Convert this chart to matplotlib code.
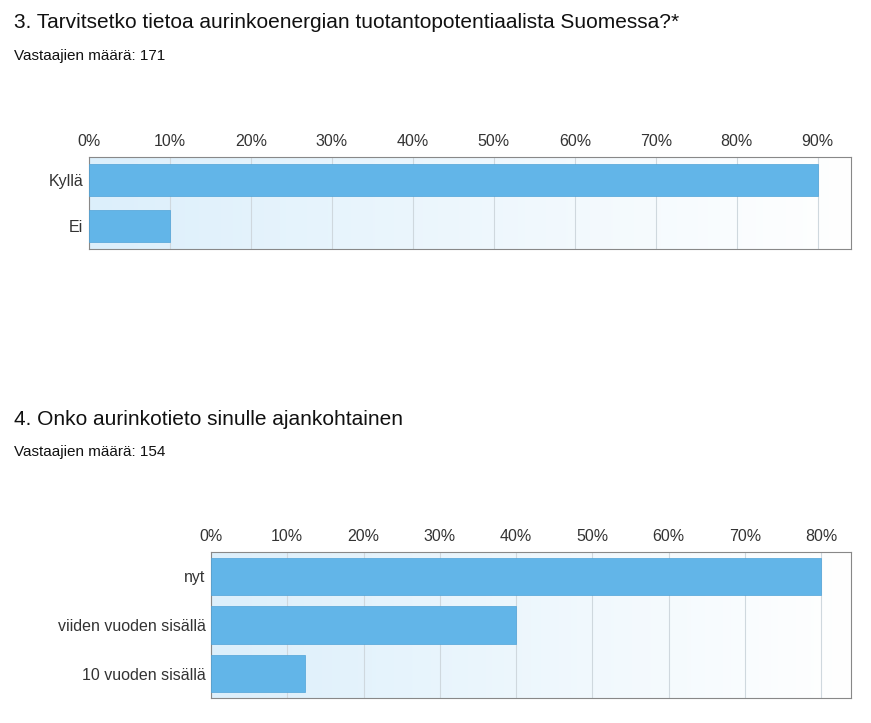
import matplotlib
matplotlib.use("Agg")
import matplotlib.pyplot as plt
import numpy as np
from matplotlib.colors import LinearSegmentedColormap

plt.rcParams["font.family"] = "Liberation Sans"

title1 = "3. Tarvitsetko tietoa aurinkoenergian tuotantopotentiaalista Suomessa?*"
sub1 = "Vastaajien määrä: 171"
cats1 = ["Kyllä", "Ei"]
vals1 = [90, 10]
ticks1 = [0, 10, 20, 30, 40, 50, 60, 70, 80, 90]

title2 = "4. Onko aurinkotieto sinulle ajankohtainen"
sub2 = "Vastaajien määrä: 154"
cats2 = ["nyt", "viiden vuoden sisällä", "10 vuoden sisällä"]
vals2 = [80, 40, 12.3]
ticks2 = [0, 10, 20, 30, 40, 50, 60, 70, 80]

fig = plt.figure(figsize=(8.71, 7.23), dpi=100)
W, H = 871, 723
bgcmap = LinearSegmentedColormap.from_list("bg", ["#dcefFb", "#ffffff"])

def panel(rect, cats, vals, ticks, xmax, bh):
    ax = fig.add_axes(rect)
    n = len(cats)
    ax.imshow(np.linspace(0, 1, 256)[None, :], aspect="auto", cmap=bgcmap,
              extent=[0, xmax, n - 0.5, -0.5], zorder=0)
    y = np.arange(n)
    ax.barh(y, vals, height=bh, color="#62b5e8", edgecolor="#4fa3d8", linewidth=0.5, zorder=3)
    ax.set_xlim(0, xmax)
    ax.set_ylim(n - 0.5, -0.5)
    ax.set_yticks(y)
    ax.set_yticklabels(cats, fontsize=11.5, color="#333333")
    ax.set_xticks(ticks)
    ax.set_xticklabels([f"{t}%" for t in ticks], fontsize=11.5, color="#333333")
    ax.xaxis.tick_top()
    ax.tick_params(length=0, pad=4)
    ax.tick_params(axis="x", pad=6)
    ax.grid(axis="x", color="#cfd8de", linewidth=0.8, zorder=1)
    for s in ax.spines.values():
        s.set_color("#888888")
    return ax

panel([89 / W, 1 - 249 / H, 762 / W, 92 / H], cats1, vals1, ticks1, 94.1, 0.7)
panel([211 / W, 1 - 698 / H, 640 / W, 146 / H], cats2, vals2, ticks2, 83.9, 0.77)

fig.text(14 / W, 1 - 22 / H, title1, fontsize=15, va="center", color="#111111")
fig.text(14 / W, 1 - 56 / H, sub1, fontsize=11, va="center", color="#111111")
fig.text(14 / W, 1 - 419 / H, title2, fontsize=15, va="center", color="#111111")
fig.text(14 / W, 1 - 452 / H, sub2, fontsize=11, va="center", color="#111111")

fig.savefig("out.png", dpi=100, facecolor="white")
